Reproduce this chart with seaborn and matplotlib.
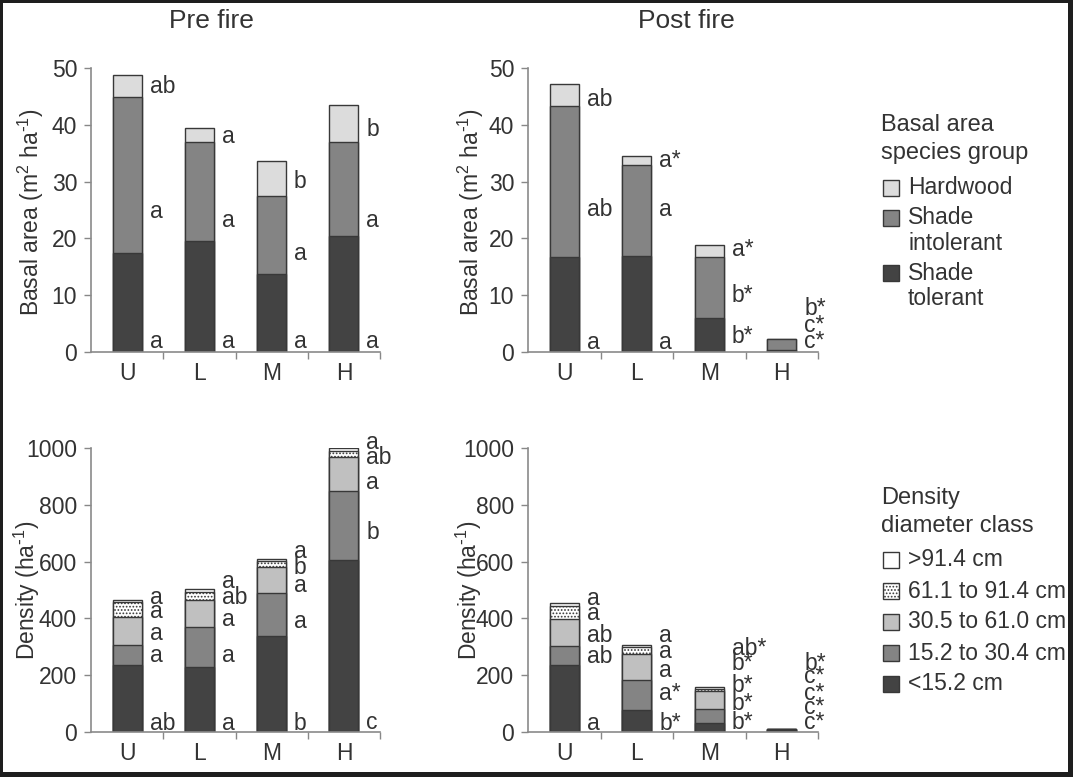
import numpy as np
import matplotlib
matplotlib.use("Agg")
import matplotlib.pyplot as plt
from matplotlib.patches import Rectangle
import seaborn as sns

sns.set_style("ticks")
plt.rcParams.update({
    'font.family': ['Liberation Sans', 'DejaVu Sans'],
    'mathtext.default': 'regular',
    'hatch.linewidth': 0.8,
    'text.color': '#333333',
    'axes.labelcolor': '#333333',
    'xtick.color': '#888888',
    'ytick.color': '#888888',
    'xtick.labelcolor': '#333333',
    'ytick.labelcolor': '#333333',
})

# ---- data ----
sites = ['U', 'L', 'M', 'H']

pre_ba_tolerant = [17.4, 19.6, 13.7, 20.4]
pre_ba_intolerant = [27.5, 17.3, 13.8, 16.6]
pre_ba_hardwood = [3.9, 2.6, 6.1, 6.4]
post_ba_tolerant = [16.7, 16.9, 6.0, 0.4]
post_ba_intolerant = [26.6, 16.1, 10.8, 1.9]
post_ba_hardwood = [3.9, 1.5, 2.1, 0.0]

pre_den_lt15 = [235, 229, 337, 605]
pre_den_15_30 = [73, 139, 152, 243]
pre_den_30_61 = [97, 98, 92, 120]
pre_den_61_91 = [51, 26, 20, 21]
pre_den_gt91 = [10, 12, 7, 10]
post_den_lt15 = [235, 76, 32, 8]
post_den_15_30 = [68, 106, 50, 3]
post_den_30_61 = [94, 94, 61, 1]
post_den_61_91 = [47, 23, 8, 0]
post_den_gt91 = [10, 9, 6, 0]

# significance letters per site, listed top to bottom
pre_ba_letters = [['ab', 'a', 'a'], ['a', 'a', 'a'], ['b', 'a', 'a'], ['b', 'a', 'a']]
post_ba_letters = [['ab', 'ab', 'a'], ['a*', 'a', 'a'], ['a*', 'b*', 'b*'], ['b*', 'c*', 'c*']]
pre_den_letters = [['a', 'a', 'a', 'a', 'ab'], ['a', 'ab', 'a', 'a', 'a'],
                   ['a', 'b', 'a', 'a', 'b'], ['a', 'ab', 'a', 'b', 'c']]
post_den_letters = [['a', 'a', 'ab', 'ab', 'a'], ['a', 'a', 'a', 'a*', 'b*'],
                    ['ab*', 'b*', 'b*', 'b*', 'b*'], ['b*', 'c*', 'c*', 'c*', 'c*']]

ba_names = ['Hardwood', 'Shade\nintolerant', 'Shade\ntolerant']
den_names = ['>91.4 cm', '61.1 to 91.4 cm', '30.5 to 61.0 cm', '15.2 to 30.4 cm', '<15.2 cm']

# ---- styling / layout ----
EDGE = '#383838'
C_TOL = '#434343'
C_INT = '#848484'
C_HARD = '#dcdcdc'
C_30 = '#c0c0c0'
ba_colors = [C_HARD, C_INT, C_TOL]            # top to bottom
ba_hatches = [None, None, None]
den_colors = ['white', 'white', C_30, C_INT, C_TOL]
den_hatches = [None, '.....', None, None, None]

# vertical positions of the letters (data units)
pre_ba_pos = [[46.7, 24.7, 1.8], [37.9, 23.2, 1.8], [30.1, 17.4, 1.8], [39.1, 23.2, 1.8]]
post_ba_pos = [[44.4, 25.0, 1.6], [33.8, 25.0, 1.6], [18.0, 10.0, 2.7], [7.6, 4.75, 1.8]]
pre_den_pos = [[475, 426, 346, 270, 30], [531, 475, 397, 270, 30],
               [636, 580, 517, 390, 30], [1021, 968, 880, 704, 35]]
post_den_pos = [[470, 417, 340, 267, 30], [340, 282, 217, 135, 30],
                [294, 241, 164, 102, 35], [241, 194, 135, 86, 35]]

FS = 16.5

W, H = 1073, 777
fig = plt.figure(figsize=(W / 100, H / 100), dpi=100)
fig.patch.set_facecolor('#1e1e1e')
fig.patches.append(Rectangle((3 / W, 5 / H), 1065 / W, 769 / H, transform=fig.transFigure,
                             facecolor='white', edgecolor='none', zorder=-10))


def px_axes(x0, y_top, w, h):
    return fig.add_axes([x0 / W, 1 - (y_top + h) / H, w / W, h / H])


def draw_stack(ax, layers, colors, hatches):
    # layers given top to bottom; draw cumulative totals largest first
    arr = np.array(layers, dtype=float)
    for k in range(len(layers)):
        cum = arr[k:].sum(axis=0)
        sns.barplot(x=sites, y=cum, order=sites, color=colors[k], saturation=1,
                    width=0.4, edgecolor=EDGE, linewidth=1.0, hatch=hatches[k],
                    errorbar=None, ax=ax)


def style_axes(ax, ymax, step):
    ax.set_facecolor('none')
    ax.set_ylim(0, ymax)
    ax.set_xlim(-0.5, 3.5)
    ax.set_yticks(np.arange(0, ymax + 1, step))
    ax.set_xlabel('')
    ax.set_ylabel('')
    sns.despine(ax=ax)
    for s in ['left', 'bottom']:
        ax.spines[s].set_color('#8a8a8a')
        ax.spines[s].set_linewidth(1.2)
    ax.tick_params(axis='y', length=5, width=1, pad=5, labelsize=FS)
    ax.tick_params(axis='x', which='major', length=0, pad=7, labelsize=FS)
    ax.set_xticks([0.5, 1.5, 2.5, 3.5], minor=True)
    ax.tick_params(axis='x', which='minor', length=5, width=1)


def add_letters(ax, letters, positions):
    for i in range(len(sites)):
        for lab, y in zip(letters[i], positions[i]):
            ax.text(i + 0.31, y, lab, ha='left', va='center', fontsize=FS,
                    color='#333333', clip_on=False)


ax1 = px_axes(91, 68, 289, 284)
ax2 = px_axes(528, 68, 290, 284)
ax3 = px_axes(91, 448, 289, 284)
ax4 = px_axes(528, 448, 290, 284)

draw_stack(ax1, [pre_ba_hardwood, pre_ba_intolerant, pre_ba_tolerant], ba_colors, ba_hatches)
draw_stack(ax2, [post_ba_hardwood, post_ba_intolerant, post_ba_tolerant], ba_colors, ba_hatches)
draw_stack(ax3, [pre_den_gt91, pre_den_61_91, pre_den_30_61, pre_den_15_30, pre_den_lt15],
           den_colors, den_hatches)
draw_stack(ax4, [post_den_gt91, post_den_61_91, post_den_30_61, post_den_15_30, post_den_lt15],
           den_colors, den_hatches)

for ax in (ax1, ax2):
    style_axes(ax, 50, 10)
for ax in (ax3, ax4):
    style_axes(ax, 1000, 200)

add_letters(ax1, pre_ba_letters, pre_ba_pos)
add_letters(ax2, post_ba_letters, post_ba_pos)
add_letters(ax3, pre_den_letters, pre_den_pos)
add_letters(ax4, post_den_letters, post_den_pos)

# titles and axis labels
fig.text(211 / W, 1 - 21 / H, 'Pre fire', ha='center', va='center', fontsize=19)
fig.text(686 / W, 1 - 21 / H, 'Post fire', ha='center', va='center', fontsize=19)
ba_label = r'Basal area (m$^{2}$ ha$^{\text{-}1}$)'
den_label = r'Density (ha$^{\text{-}1}$)'
fig.text(31 / W, 1 - 212 / H, ba_label, rotation=90, ha='center', va='center', fontsize=16.5)
fig.text(471 / W, 1 - 212 / H, ba_label, rotation=90, ha='center', va='center', fontsize=16.5)
fig.text(27 / W, 1 - 590 / H, den_label, rotation=90, ha='center', va='center', fontsize=16.5)
fig.text(469 / W, 1 - 590 / H, den_label, rotation=90, ha='center', va='center', fontsize=16.5)


# manual legends (square aligned with first text line)
def legend_block(title_lines, title_y, names, colors, hatches, entry_y):
    for j, line in enumerate(title_lines):
        fig.text(881 / W, 1 - (title_y + 28 * j) / H, line, ha='left', va='center', fontsize=17)
    for name, c, h, y in zip(names, colors, hatches, entry_y):
        fig.patches.append(Rectangle((883 / W, 1 - (y + 8) / H), 16 / W, 16 / H,
                                     transform=fig.transFigure, facecolor=c,
                                     edgecolor=EDGE, linewidth=1.0, hatch=h))
        for j, line in enumerate(name.split('\n')):
            fig.text(908 / W, 1 - (y + 25 * j) / H, line, ha='left', va='center', fontsize=FS)


legend_block(['Basal area', 'species group'], 125, ba_names, ba_colors, ba_hatches, [188, 218, 273])
legend_block(['Density', 'diameter class'], 498, den_names, den_colors, den_hatches,
             [560, 591, 622, 653, 684])

fig.savefig('out.png', dpi=100, facecolor=fig.get_facecolor())
